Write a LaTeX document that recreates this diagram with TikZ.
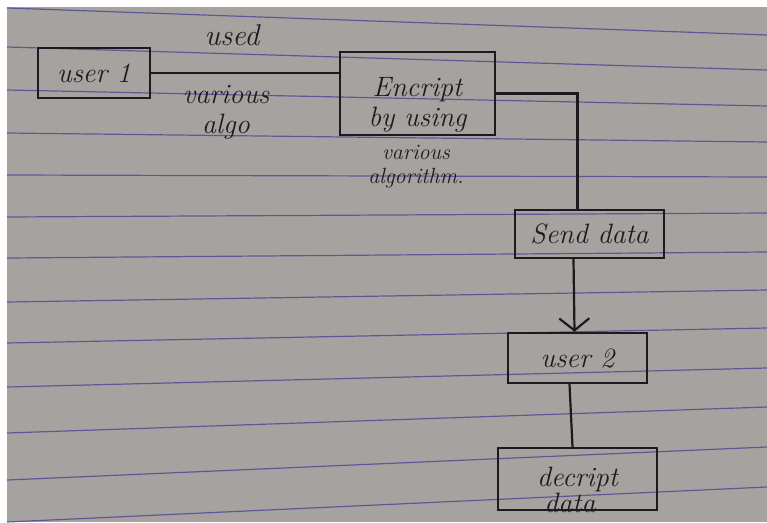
\documentclass[tikz,border=0pt]{standalone}
\usetikzlibrary{arrows.meta}
\definecolor{paper}{RGB}{166,162,159}
\definecolor{ruling}{RGB}{82,68,150}
\definecolor{ink}{RGB}{28,26,30}
\newcommand{\handfont}{\fontsize{28}{30}\selectfont\itshape}
\newcommand{\notefont}{\fontsize{22}{24}\selectfont\itshape}
\tikzset{
  box/.style={draw=ink, line width=2.4pt, rectangle, inner sep=0pt, text=ink, font=\handfont, align=center},
  hand/.style={text=ink, font=\handfont, align=center, inner sep=0pt},
  pen/.style={draw=ink, line width=2.2pt},
  rule/.style={draw=ruling, line width=1.2pt, opacity=0.8}
}
\begin{document}
\begin{tikzpicture}[x=1pt,y=-1pt]
\useasboundingbox (0,0) rectangle (767,522);
\fill[white] (0,0) rectangle (767,522);
\fill[paper] (7,7) rectangle (767,522);
\foreach \l/\r in {8/35,47/70,90/106,133/142,175/177,217/213,258/252,302/290,343/328,387/368,433/407,480/447,522/487} % ruled lines, left/right heights
\draw[rule] (7,\l) -- (767,\r);

\node[box, minimum width=112, minimum height=50] (user1) at (94,73) {user 1};
\node[box, minimum width=155, minimum height=83] (encrypt) at (417.5,93.5) {\rule{0pt}{42pt}Encript\\by using};
\node[box, minimum width=149, minimum height=48] (send) at (589.5,234) {Send data};
\node[box, minimum width=139, minimum height=50] (user2) at (577.5,358) {user 2};
\node[box, minimum width=159, minimum height=62] (decript) at (577.5,479) {decript};
\node[hand] (decriptdata) at (570,503) {data};

\node[hand, font=\fontsize{30}{32}\selectfont\itshape] (used) at (232,35) {used};
\node[hand] (algo) at (226,112) {various\\algo};
\node[hand, font=\notefont] (encnote) at (416,167) {various\\algorithm.};

\draw[pen] (user1.east) -- (user1.east -| encrypt.west);
\draw[pen] (encrypt.east) -| ([xshift=-12pt]send.north);
\draw[pen, -{Straight Barb[length=12pt,width=30pt]}] ([xshift=-16pt]send.south) -- ([xshift=-3pt]user2.north);
\draw[pen] ([xshift=-8pt]user2.south) -- ([xshift=-5pt]decript.north);
\end{tikzpicture}
\end{document}
